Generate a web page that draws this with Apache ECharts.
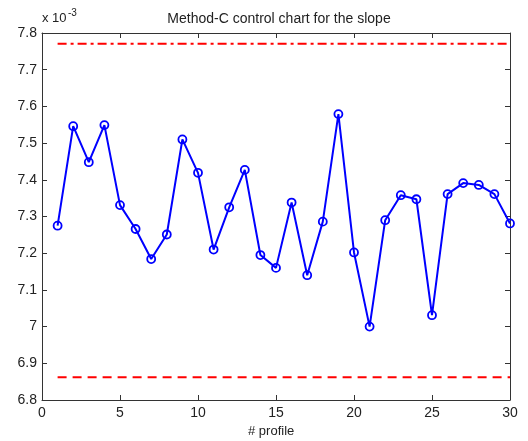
<!DOCTYPE html>
<html>
<head>
<meta charset="utf-8">
<script src="https://cdn.jsdelivr.net/npm/echarts@6/dist/echarts.min.js"></script>
<style>html,body{margin:0;padding:0;background:#fff}#c{width:528px;height:441px}</style>
</head>
<body>
<div id="c"></div>
<script>
var profiles = [1,2,3,4,5,6,7,8,9,10,11,12,13,14,15,16,17,18,19,20,21,22,23,24,25,26,27,28,29,30];
var slopes = [7.275,7.546,7.448,7.549,7.331,7.266,7.184,7.251,7.510,7.419,7.210,7.325,7.427,7.195,7.160,7.338,7.140,7.286,7.579,7.202,7.000,7.290,7.358,7.347,7.031,7.361,7.391,7.386,7.361,7.281];
var ucl = 7.771;
var lcl = 6.862;
var xRange = [0, 30];
var yRange = [6.8, 7.8];

var chart = echarts.init(document.getElementById('c'));
var font = 'Liberation Sans, Arial, sans-serif';
var axisCol = '#333';
function xAx(pos, showLabel) {
  return {
    type: 'value', position: pos, min: xRange[0], max: xRange[1], interval: 5,
    axisLine: {show: true, onZero: false, lineStyle: {color: axisCol, width: 1}},
    axisTick: {show: true, inside: true, length: 5, lineStyle: {color: axisCol}},
    axisLabel: {show: showLabel, color: '#222', fontSize: 14, fontFamily: font, margin: 6},
    splitLine: {show: false}
  };
}
function yAx(pos, showLabel) {
  return {
    type: 'value', position: pos, min: yRange[0], max: yRange[1], interval: 0.1,
    axisLine: {show: true, onZero: false, lineStyle: {color: axisCol, width: 1}},
    axisTick: {show: true, inside: true, length: 5, lineStyle: {color: axisCol}},
    axisLabel: {show: showLabel, color: '#222', fontSize: 14, fontFamily: font, margin: 5,
      formatter: function (v) { return String(Math.round(v * 10) / 10); }},
    splitLine: {show: false}
  };
}
var option = {
  animation: false,
  backgroundColor: '#fff',
  title: {
    text: 'Method-C control chart for the slope', left: 274, top: 7, textAlign: 'center',
    textStyle: {fontSize: 14, fontWeight: 'normal', color: '#222', fontFamily: font}
  },
  grid: {left: 42, top: 33, width: 468, height: 367},
  xAxis: [xAx('bottom', true), xAx('top', false)],
  yAxis: [yAx('left', true), yAx('right', false)],
  graphic: [
    {type: 'text', left: 42, top: 12, style: {text: 'x 10', fontSize: 13, fontFamily: font, fill: '#222'}},
    {type: 'text', left: 68, top: 8, style: {text: '-3', fontSize: 10, fontFamily: font, fill: '#222'}},
    {type: 'text', left: 248, top: 425, style: {text: '# profile', fontSize: 13, fontFamily: font, fill: '#222'}}
  ],
  series: [
    {
      type: 'line', data: [[profiles[0], ucl], [profiles[profiles.length - 1], ucl]],
      symbol: 'none', lineStyle: {color: '#ff0000', width: 2, type: [9, 4, 3, 4]}, silent: true
    },
    {
      type: 'line', data: [[profiles[0], lcl], [profiles[profiles.length - 1], lcl]],
      symbol: 'none', lineStyle: {color: '#ff0000', width: 2, type: [9, 6]}, silent: true
    },
    {
      type: 'line', data: profiles.map(function (p, i) { return [p, slopes[i]]; }),
      symbol: 'circle', symbolSize: 8,
      lineStyle: {color: '#0000ff', width: 2},
      itemStyle: {color: 'rgba(0,0,0,0)', borderColor: '#0000ff', borderWidth: 1.8},
      z: 5
    }
  ]
};
chart.setOption(option);
</script>
</body>
</html>
